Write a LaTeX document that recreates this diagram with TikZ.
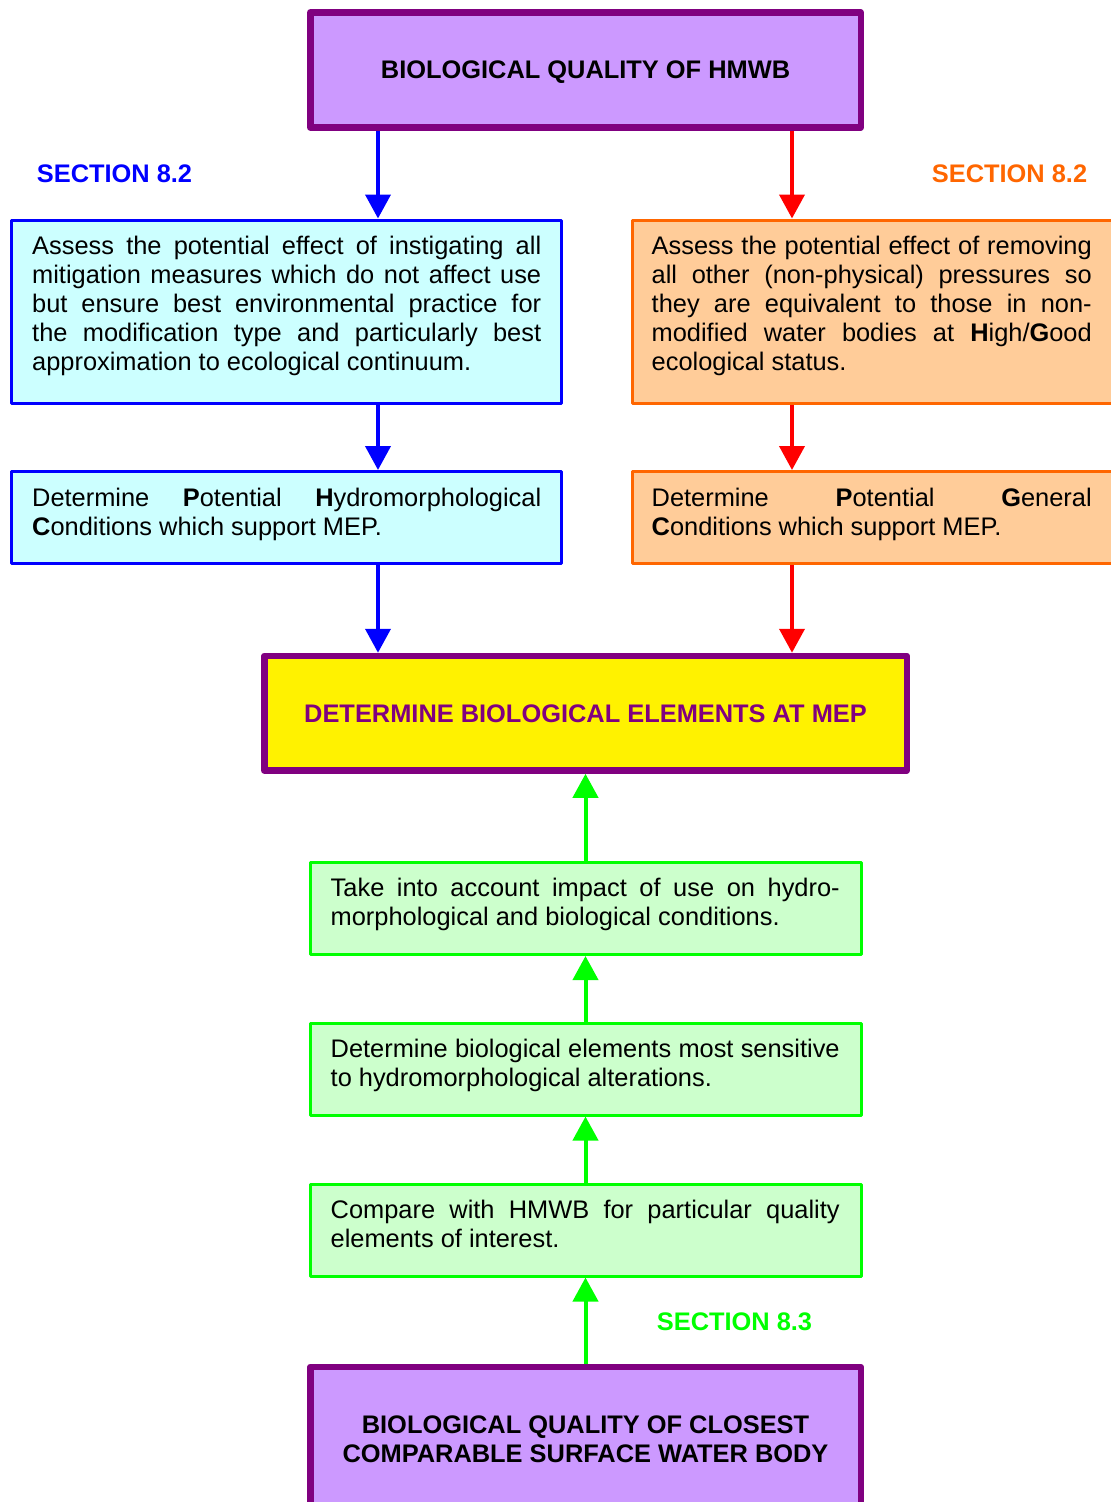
\documentclass[tikz,border=0pt]{standalone}
\usepackage{fontspec}
\setmainfont{Liberation Sans}
\usetikzlibrary{arrows.meta,positioning}
\definecolor{hmwbpurple}{HTML}{800080}
\definecolor{lilac}{HTML}{CC99FF}
\definecolor{palecyan}{HTML}{CCFFFF}
\definecolor{paleorange}{HTML}{FFCC99}
\definecolor{secorange}{HTML}{FF6600}
\definecolor{palegreen}{HTML}{CCFFCC}
\definecolor{brightgreen}{HTML}{00FF00}
\newcommand{\bigtext}{\fontsize{25.4}{29}\selectfont}
\tolerance=9999
\hbadness=10000

\begin{document}
\begin{tikzpicture}[x=1pt,y=-1pt,font=\bigtext,
    thickbox/.style={draw=hmwbpurple,line width=6.5pt,line join=round,inner sep=0pt,align=center},
    thinbox/.style={line width=3pt,line join=round,inner sep=0pt},
    bodytext/.style={anchor=base west,inner sep=0pt,align=justify},
    seclabel/.style={font=\bigtext\bfseries,inner sep=0pt},
    flow/.style={line width=4pt,-{Triangle[width=25pt,length=24pt]}}]
\useasboundingbox (0,0) rectangle (1111,1502);
\clip (0,0) rectangle (1111,1502);

\coordinate (bluecol) at (378,0);
\coordinate (redcol) at (792,0);

% top and bottom
\node[thickbox,fill=lilac,minimum width=550.5pt,minimum height=115pt,font=\bigtext\bfseries,text depth=0pt] (hmwb) at (585.5,70) {BIOLOGICAL QUALITY OF HMWB};
\node[thickbox,fill=lilac,minimum width=550.5pt,minimum height=144pt,font=\bigtext\bfseries] (closest) at (585.5,1439) {BIOLOGICAL QUALITY OF CLOSEST\\COMPARABLE SURFACE WATER BODY};
\node[thickbox,fill=yellow,minimum width=642.5pt,minimum height=114.5pt,font=\bigtext\bfseries,text=hmwbpurple] (elements) at (585.5,713.25) {DETERMINE BIOLOGICAL ELEMENTS AT MEP};

\node[seclabel,text=blue] (secleft) at (114.5,174) {SECTION 8.2};
\node[seclabel,text=secorange] (secright) at (1009.5,174) {SECTION 8.2};
\node[seclabel,text=brightgreen] (secbottom) at (734.5,1322) {SECTION 8.3};

% left column
\node[thinbox,draw=blue,fill=palecyan,minimum width=550pt,minimum height=183.5pt] (mitigate) at (286.5,311.75) {};
\node[bodytext,text width=509pt] (mitigatetext) at ([shift={(22,36)}]mitigate.north west) {Assess the potential effect of instigating all\linebreak mitigation measures which do not affect use\linebreak but ensure best environmental practice for\linebreak the modification type and particularly best\linebreak approximation to ecological continuum.};
\node[thinbox,draw=blue,fill=palecyan,minimum width=550pt,minimum height=92pt] (hydro) at (286.5,517.5) {};
\node[bodytext,text width=509pt] (hydrotext) at ([shift={(22,36)}]hydro.north west) {Determine \textbf{P}otential \textbf{H}ydromorphological\linebreak \textbf{C}onditions which support MEP.};

% right column
\node[thinbox,draw=secorange,fill=paleorange,minimum width=498pt,minimum height=183.5pt] (pressures) at (881,311.75) {};
\node[bodytext,text width=440pt] (pressurestext) at ([shift={(21,36)}]pressures.north west) {Assess the potential effect of removing\linebreak all other (non-physical) pressures so\linebreak they are equivalent to those in non-\linebreak modified water bodies at \textbf{H}igh/\textbf{G}ood\linebreak ecological status.};
\node[thinbox,draw=secorange,fill=paleorange,minimum width=498pt,minimum height=92pt] (general) at (881,517.5) {};
\node[bodytext,text width=440pt] (generaltext) at ([shift={(21,36)}]general.north west) {Determine \textbf{P}otential \textbf{G}eneral\linebreak \textbf{C}onditions which support MEP.};

% green column
\node[thinbox,draw=brightgreen,fill=palegreen,minimum width=551pt,minimum height=92.5pt] (impact) at (585.5,908.25) {};
\node[bodytext,text width=509pt] (impacttext) at ([shift={(22,36)}]impact.north west) {Take into account impact of use on hydro-\linebreak morphological and biological conditions.};
\node[thinbox,draw=brightgreen,fill=palegreen,minimum width=551pt,minimum height=92pt] (sensitive) at (585.5,1069) {};
\node[bodytext,text width=509pt] (sensitivetext) at ([shift={(22,36)}]sensitive.north west) {Determine biological elements most sensitive\linebreak to hydromorphological alterations.};
\node[thinbox,draw=brightgreen,fill=palegreen,minimum width=551pt,minimum height=92pt] (compare) at (585.5,1230) {};
\node[bodytext,text width=509pt] (comparetext) at ([shift={(22,36)}]compare.north west) {Compare with HMWB for particular quality\linebreak elements of interest.};

\draw[flow,blue] (bluecol |- hmwb.south) -- (bluecol |- mitigate.north);
\draw[flow,blue] (bluecol |- mitigate.south) -- (bluecol |- hydro.north);
\draw[flow,blue] (bluecol |- hydro.south) -- (bluecol |- elements.north);
\draw[flow,red] (redcol |- hmwb.south) -- (redcol |- pressures.north);
\draw[flow,red] (redcol |- pressures.south) -- (redcol |- general.north);
\draw[flow,red] (redcol |- general.south) -- (redcol |- elements.north);
\draw[flow,brightgreen] (closest.north) -- (compare.south);
\draw[flow,brightgreen] (compare.north) -- (sensitive.south);
\draw[flow,brightgreen] (sensitive.north) -- (impact.south);
\draw[flow,brightgreen] (impact.north) -- (elements.south);
\end{tikzpicture}
\end{document}
